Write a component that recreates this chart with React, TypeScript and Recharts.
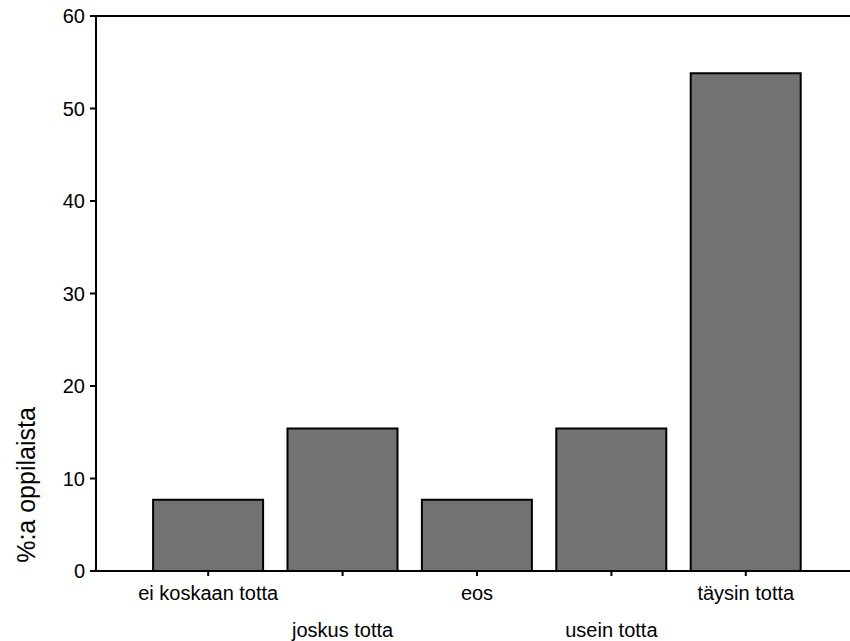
import { BarChart, Bar, XAxis, YAxis, ReferenceLine } from "recharts";

// answer categories and share of pupils (%)
const categories = [
  "ei koskaan totta",
  "joskus totta",
  "eos",
  "usein totta",
  "täysin totta",
];
const shares = [7.7, 15.4, 7.7, 15.4, 53.8];
const yTicks = [0, 10, 20, 30, 40, 50, 60];

const data = categories.map((name, i) => ({ name, value: shares[i] }));

const FONT = "'Liberation Sans', Arial, sans-serif";

// labels alternate between two rows, like the original
const StaggeredTick = (props: any) => {
  const { x, y, payload, index } = props;
  const dy = index % 2 === 0 ? 22 : 59;
  return (
    <text
      x={x}
      y={y + dy}
      textAnchor="middle"
      fontSize={20}
      fontFamily={FONT}
      fill="#000"
    >
      {payload.value}
    </text>
  );
};

const YLabel = () => (
  <text
    x={35}
    y={485}
    transform="rotate(-90 35 485)"
    textAnchor="middle"
    fontSize={25}
    fontFamily={FONT}
    fill="#000"
  >
    %:a oppilaista
  </text>
);

export default function App() {
  return (
    <div style={{ width: 850, height: 641, background: "#fff" }}>
      <style>{`body{margin:0}`}</style>
      <BarChart
        width={850}
        height={641}
        data={data}
        margin={{ top: 16, right: 0, bottom: 40, left: 0 }}
        barCategoryGap="9%"
      >
        <XAxis
          dataKey="name"
          tick={<StaggeredTick />}
          tickSize={5}
          tickLine={{ stroke: "#000", strokeWidth: 2 }}
          axisLine={{ stroke: "#000", strokeWidth: 2 }}
          padding={{ left: 45, right: 37 }}
          interval={0}
        />
        <YAxis
          width={96}
          domain={[0, 60]}
          ticks={yTicks}
          tickSize={6}
          tickMargin={5}
          tickLine={{ stroke: "#000", strokeWidth: 2 }}
          axisLine={{ stroke: "#000", strokeWidth: 2 }}
          tick={{ fontSize: 20, fontFamily: FONT, fill: "#000" }}
        />
        <ReferenceLine y={60} stroke="#000" strokeWidth={2} />
        <Bar
          dataKey="value"
          fill="#727272"
          stroke="#000"
          strokeWidth={2}
          isAnimationActive={false}
        />
        <YLabel />
      </BarChart>
    </div>
  );
}
